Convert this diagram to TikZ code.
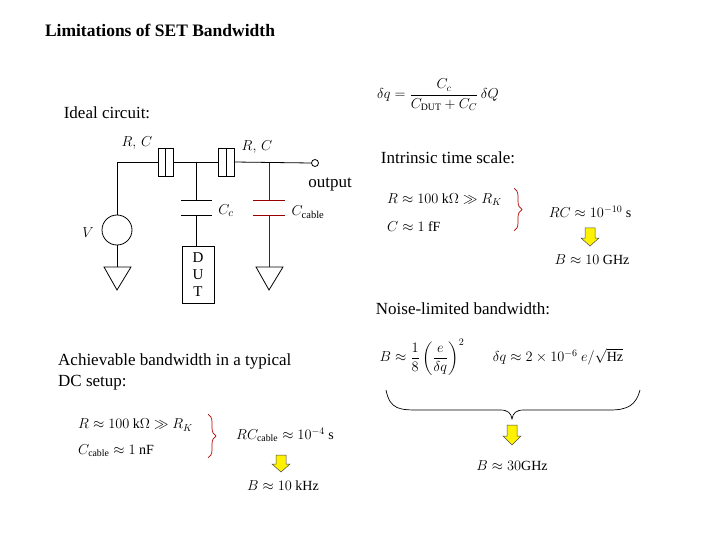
\documentclass[tikz,border=0pt]{standalone}
\usepackage{amsmath,amssymb}
\usepackage{fontspec}
\setmainfont{Liberation Serif}
\usetikzlibrary{decorations.pathreplacing}
\begin{document}
\begin{tikzpicture}[x=1pt,y=-1pt,
  w/.style={line width=0.8pt},
  rw/.style={line width=0.8pt,draw=red!60!black},
  gnd/.style={w},
  txt/.style={inner sep=0pt,font=\fontsize{17}{19}\selectfont},
  mth/.style={inner sep=0pt,font=\fontsize{14}{16}\selectfont},
  yarr/.style={fill=yellow,draw=black!70,line width=0.5pt},
  brc/.style={decorate,decoration={brace,amplitude=8pt},line width=0.7pt}]
\useasboundingbox (0,0) rectangle (720,540);
% titles
\node[txt,font=\bfseries\fontsize{17.5}{19}\selectfont] (title) at (160,30) {Limitations of SET Bandwidth};
\node[txt] (ideal) at (107,113) {Ideal circuit:};
% circuit
\coordinate (lc) at (117,162);
\coordinate (j1) at (196,162);
\coordinate (j2) at (269,162);
\node[circle,draw,w,minimum size=7pt,inner sep=0pt] (out) at (315,163) {};
\draw[w] (117,215) -- (lc) -- (158,162);
\draw[w] (158,148) rectangle (173,176); \draw[w] (165.5,148) -- (165.5,176);
\draw[w] (173,162) -- (218,162);
\draw[w] (218,148) rectangle (234,176); \draw[w] (226,148) -- (226,176);
\draw[w] (234,162) -- (out.west);
% source
\node[circle,draw,w,minimum size=30pt,inner sep=0pt] (src) at (117,230) {};
\draw[w] (src.south) -- (117,267);
\draw[gnd] (104,267) -- (131,267) -- (117,290) -- cycle;
% Cc
\draw[w] (j1) -- (196,200); \draw[w] (181,200) -- (212,200); \draw[w] (181,215) -- (212,215);
\draw[w] (196,215) -- (196,246);
\node[draw,w,minimum width=32pt,minimum height=57pt,inner sep=0pt,align=center,
  font=\fontsize{15}{17}\selectfont] (dut) at (198,274.5) {D\\U\\T};
% Ccable
\draw[rw] (269,163) -- (269,200); \draw[rw] (253,200) -- (285,200); \draw[rw] (253,215) -- (285,215);
\draw[rw] (269,215) -- (269,267);
\draw[gnd] (256,267) -- (283,267) -- (269,290) -- cycle;
% labels
\node[txt,font=\fontsize{15}{16}\selectfont] (rc1) at (137,143) {$R,\,C$};
\node[txt,font=\fontsize{15}{16}\selectfont] (rc2) at (257,147) {$R,\,C$};
\node[txt] (outl) at (330,185) {output};
\node[txt,font=\fontsize{15}{16}\selectfont] (cc) at (226,211) {$C_c$};
\node[txt,font=\fontsize{15}{16}\selectfont] (ccab) at (308,212) {$C_{\text{cable}}$};
\node[txt,font=\fontsize{15}{16}\selectfont] (vl) at (88,233) {$V$};
% dq formula
\node[mth] (dq) at (438,95) {$\delta q=\dfrac{C_c}{C_{\mathrm{DUT}}+C_C}\,\delta Q$};
% intrinsic
\node[txt] (intr) at (448,158) {Intrinsic time scale:};
\node[mth,anchor=west] (ir) at (387,200) {$R\approx100\ \mathrm{k}\Omega\gg R_K$};
\node[mth,anchor=west] (ic) at (387,227) {$C\approx1\ \mathrm{fF}$};
\draw[brc,draw=red!70!black] (514,188) -- (514,231);
\node[mth] (irc) at (590,212) {$RC\approx10^{-10}\ \mathrm{s}$};
\draw[yarr] (585,228) -- (595,228) -- (595,238) -- (599,238) -- (590,246) -- (581,238) -- (585,238) -- cycle;
\node[mth] (ib) at (592,260) {$B\approx10\ \mathrm{GHz}$};
% noise
\node[txt] (noise) at (463,309) {Noise-limited bandwidth:};
\node[mth] (nb) at (422,357) {$B\approx\dfrac{1}{8}\left(\dfrac{e}{\delta q}\right)^{2}$};
\node[mth] (ndq) at (558,357) {$\delta q\approx2\times10^{-6}\ e/\sqrt{\mathrm{Hz}}$};
\draw[line width=0.7pt] (386,390) .. controls (390,410) and (400,410) .. (420,410) -- (500,410) .. controls (508,410) and (511,413) .. (512,419)
  .. controls (513,413) and (516,410) .. (524,410) -- (610,410) .. controls (628,410) and (636,405) .. (640,390);
\draw[yarr] (507,425) -- (517,425) -- (517,436) -- (521,436) -- (512,445) -- (503,436) -- (507,436) -- cycle;
\node[mth] (nbr) at (512,466) {$B\approx30\mathrm{GHz}$};
% achievable
\node[txt,anchor=west,align=left,font=\fontsize{17}{21}\selectfont] (ach) at (58,372) {Achievable bandwidth in a typical\\DC setup:};
\node[mth,anchor=west] (ar) at (78,425) {$R\approx100\ \mathrm{k}\Omega\gg R_K$};
\node[mth,anchor=west] (ac) at (78,451) {$C_{\text{cable}}\approx1\ \mathrm{nF}$};
\draw[brc,draw=red!70!black] (208,414) -- (208,458);
\node[mth] (arc) at (285,435) {$RC_{\text{cable}}\approx10^{-4}\ \mathrm{s}$};
\draw[yarr] (276,455) -- (286,455) -- (286,464) -- (290,464) -- (281,472) -- (272,464) -- (276,464) -- cycle;
\node[mth] (abr) at (283,486) {$B\approx10\ \mathrm{kHz}$};
\end{tikzpicture}
\end{document}
